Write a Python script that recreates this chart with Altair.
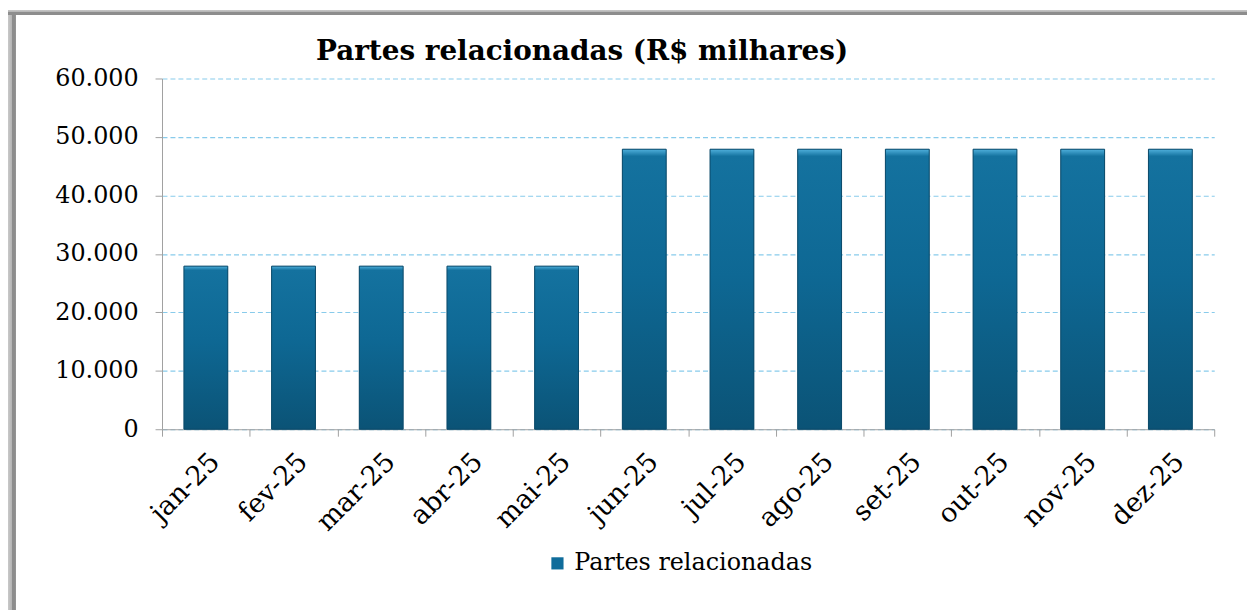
import altair as alt
import pandas as pd

months = ["jan-25", "fev-25", "mar-25", "abr-25", "mai-25", "jun-25",
          "jul-25", "ago-25", "set-25", "out-25", "nov-25", "dez-25"]
values = [27900, 27900, 27900, 27900, 27900, 47900,
          47900, 47900, 47900, 47900, 47900, 47900]
series_name = "Partes relacionadas"
y_ticks = [0, 10000, 20000, 30000, 40000, 50000, 60000]
title_text = "Partes relacionadas (R$ milhares)"

df = pd.DataFrame({"mes": months, "valor": values, "serie": [series_name] * len(months)})
frame_df = pd.DataFrame({"k": [0]})

W, H = 1059, 353
PAD_L, PAD_T, PAD_R, PAD_B = 155, 69, 33, 182
FONT = "DejaVu Serif"

bar_grad = {
    "gradient": "linear", "x1": 0, "y1": 0, "x2": 0, "y2": 1,
    "stops": [
        {"offset": 0.0, "color": "#4fb0dc"},
        {"offset": 0.025, "color": "#14729f"},
        {"offset": 0.45, "color": "#0e6894"},
        {"offset": 1.0, "color": "#0b5376"},
    ],
}

x_enc = alt.X(
    "mes:N", sort=months,
    scale=alt.Scale(paddingInner=0, paddingOuter=0),
    axis=alt.Axis(
        title=None, labelAngle=-45, labelFont=FONT, labelFontSize=27,
        labelColor="black", labelPadding=12, tickSize=7, tickBand="extent",
        tickColor="#a0a0a0", domainColor="#a0a0a0", grid=False,
    ),
)
y_enc = alt.Y(
    "valor:Q",
    scale=alt.Scale(domain=[0, 60000], nice=False),
    axis=alt.Axis(
        title=None, values=y_ticks, labelFont=FONT, labelFontSize=24,
        labelColor="black", labelPadding=17, tickSize=7,
        tickColor="#a0a0a0", domainColor="#a0a0a0",
        grid=True, gridColor="#88cbeb", gridDash=[5, 3], gridWidth=1.2,
        labelExpr="replace(format(datum.value, ',d'), ',', '.')",
    ),
)

bar_width = alt.RelativeBandSize(0.5)

legend_bars = alt.Chart(df).mark_bar(width=bar_width).encode(
    x=x_enc,
    y=y_enc,
    color=alt.Color(
        "serie:N", scale=alt.Scale(range=["#0f6c9b"]),
        legend=alt.Legend(
            title=None, orient="none", legendX=386, legendY=476,
            symbolType="square", symbolSize=150, symbolStrokeWidth=0,
            labelFont=FONT, labelFontSize=24, labelColor="black",
            labelOffset=5, labelLimit=600, padding=0,
        ),
    ),
)

grad_bars = alt.Chart(df).mark_bar(width=bar_width, stroke="#0b4a69", strokeWidth=1).encode(
    x=alt.X("mes:N", sort=months),
    y=alt.Y("valor:Q"),
    fill=alt.value(bar_grad),
)

left_grad = {
    "gradient": "linear", "x1": 0, "y1": 0, "x2": 1, "y2": 0,
    "stops": [
        {"offset": 0.0, "color": "#c9c9c9"},
        {"offset": 0.5, "color": "#b3b3b3"},
        {"offset": 0.5, "color": "#8d8d8d"},
        {"offset": 1.0, "color": "#8d8d8d"},
    ],
}
top_grad = {
    "gradient": "linear", "x1": 0, "y1": 0, "x2": 0, "y2": 1,
    "stops": [
        {"offset": 0.0, "color": "#c9c9c9"},
        {"offset": 0.4, "color": "#b3b3b3"},
        {"offset": 0.4, "color": "#8d8d8d"},
        {"offset": 1.0, "color": "#8d8d8d"},
    ],
}

frame_left = alt.Chart(frame_df).mark_rect().encode(
    x=alt.value(-PAD_L), x2=alt.value(-PAD_L + 8),
    y=alt.value(-PAD_T), y2=alt.value(H + PAD_B),
    fill=alt.value(left_grad),
)
frame_top = alt.Chart(frame_df).mark_rect().encode(
    x=alt.value(-PAD_L), x2=alt.value(W + PAD_R),
    y=alt.value(-PAD_T), y2=alt.value(-PAD_T + 5),
    fill=alt.value(top_grad),
)

chart = alt.layer(legend_bars, grad_bars, frame_left, frame_top).properties(
    width=W, height=H,
    autosize=alt.AutoSizeParams(type="none"),
    padding={"left": PAD_L, "top": PAD_T, "right": PAD_R, "bottom": PAD_B},
    background="white",
    title=alt.TitleParams(
        title_text, anchor="start", frame="group", dx=155, dy=56, offset=0,
        font=FONT, fontSize=28, fontWeight="bold", color="black",
    ),
).configure_view(stroke=None)

chart.save("out.html", embed_options={"renderer": "svg", "actions": False})
